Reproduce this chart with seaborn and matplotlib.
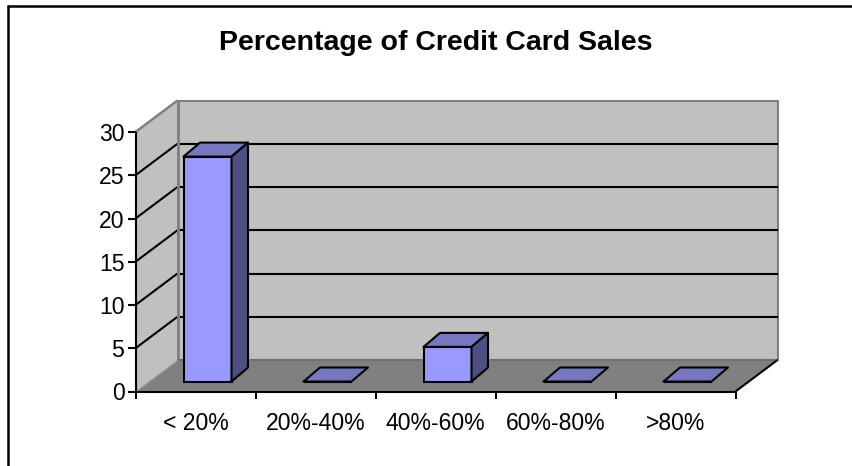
import matplotlib
matplotlib.use("Agg")
import matplotlib.pyplot as plt
import seaborn as sns
import pandas as pd
from matplotlib.patches import Polygon
from matplotlib.lines import Line2D
from matplotlib.transforms import Affine2D

categories = ["< 20%", "20%-40%", "40%-60%", "60%-80%", ">80%"]
values = [26, 0, 4, 0, 0]
y_ticks = [0, 5, 10, 15, 20, 25, 30]
title = "Percentage of Credit Card Sales"

W, H = 852, 466
DX, DY = 42, 31.5        # depth of the chart box, px
BDX, BDY = 12, 10        # front plane of the bars, behind the axis, px
SDX, SDY = 16.5, 14      # depth of a bar, px
BAR = "#9999ff"
BAR_TOP = "#7777bf"
BAR_SIDE = "#4f4f80"
WALL = "#c0c0c0"
EDGE = "#808080"

sns.set_theme(style="white")
plt.rcParams["font.family"] = ["Liberation Sans", "DejaVu Sans"]

fig = plt.figure(figsize=(W / 100, H / 100), dpi=100)
ax = fig.add_axes([135.5 / W, (H - 391.5) / H, 600 / W, 259.5 / H])
df = pd.DataFrame({"range": categories, "count": values})
sns.barplot(data=df, x="range", y="count", width=0.4, color=BAR, saturation=1,
            edgecolor="black", linewidth=1.5, ax=ax, zorder=6)
ax.set_xlim(-0.5, len(categories) - 0.5)
ax.set_ylim(0, 30)
ax.set_xlabel("")
ax.set_ylabel("")
ax.set_yticks(y_ticks)
ax.patch.set_visible(False)
for name, sp in ax.spines.items():
    sp.set_visible(False)
ax.set_xticks(range(len(categories)))
ax.set_xticklabels(categories)
ax.tick_params(axis="both", which="major", length=0, color="black",
               labelsize=16.6, labelcolor="black", left=False, bottom=False)
ax.tick_params(axis="x", pad=15)
ax.tick_params(axis="y", pad=8)

fig.canvas.draw()
to_px = ax.transData.transform


def poly(pts, face, edge="none", lw=0, z=1):
    ax.add_patch(Polygon(pts, closed=True, facecolor=face, edgecolor=edge, linewidth=lw,
                         transform=None, clip_on=False, zorder=z, joinstyle="round"))


def line(p, q, color="black", lw=1.5, z=3):
    ax.add_artist(Line2D([p[0], q[0]], [p[1], q[1]], color=color, linewidth=lw,
                         transform=None, clip_on=False, zorder=z, solid_capstyle="butt"))


x0, x1 = ax.get_xlim()
y0, y1 = ax.get_ylim()
fl, fr = to_px((x0, y0)), to_px((x1, y0))
tl = to_px((x0, y1))
back = lambda p: (p[0] + DX, p[1] + DY)

# walls and floor
poly([back(fl), back(fr), back((fr[0], tl[1])), back(tl)], WALL, EDGE, 1.5, 1)
poly([fl, back(fl), back(tl), tl], WALL, "none", 0, 1)
poly([fl, fr, back(fr), back(fl)], EDGE, "none", 0, 2)

# gridlines along both walls
for v in y_ticks[1:-1]:
    p = to_px((x0, v))
    q = to_px((x1, v))
    line(p, back(p), z=3)
    line(back(p), back(q), z=3)
line(tl, back(tl), EDGE, 1.8, 3)
line(fl, back(fl), "#b0b0b0", 1, 3)
line(back(fl), back((fl[0], tl[1])), EDGE, 2, 3)
line(back(fl), back(fr), "#707070", 1.5, 3)
line(fr, back(fr), "black", 1.5, 3)

# axes lines and ticks
line(fl, tl, "black", 1.5, 4)
line(fl, fr, "black", 1.5, 4)
for v in y_ticks:
    p = to_px((x0, v))
    line((p[0] - 7.5, p[1]), p, "black", 1.5, 4)
for i in range(len(categories) + 1):
    p = to_px((x0 + i, y0))
    line(p, (p[0], p[1] - 7.5), "black", 1.5, 4)

# 3D bars: the seaborn bars are moved onto their plane; depth faces follow them
shift = Affine2D().translate(BDX, BDY)
for bar in ax.patches[:len(categories)]:
    bar.set_transform(ax.transData + shift)
    a = shift.transform(to_px((bar.get_x(), 0)))
    b = shift.transform(to_px((bar.get_x() + bar.get_width(), bar.get_height())))
    poly([(a[0], b[1]), (b[0], b[1]), (b[0] + SDX, b[1] + SDY), (a[0] + SDX, b[1] + SDY)],
         BAR_TOP, "black", 1.5, 7)
    if bar.get_height() > 0:
        poly([(b[0], a[1]), (b[0] + SDX, a[1] + SDY), (b[0] + SDX, b[1] + SDY), (b[0], b[1])],
             BAR_SIDE, "black", 1.5, 7)

# chart frame: only the left and top edges lie inside the picture
fig.add_artist(Line2D([8 / W, 8 / W], [0, (H - 6) / H], color="black", lw=1.8))
fig.add_artist(Line2D([8 / W, 1], [(H - 6) / H, (H - 6) / H], color="black", lw=1.8))

fig.text(435.5 / W, (H - 42.5) / H, title, ha="center", va="center", fontsize=20.5,
         fontweight="bold", color="black")
fig.savefig("out.png", dpi=100)
